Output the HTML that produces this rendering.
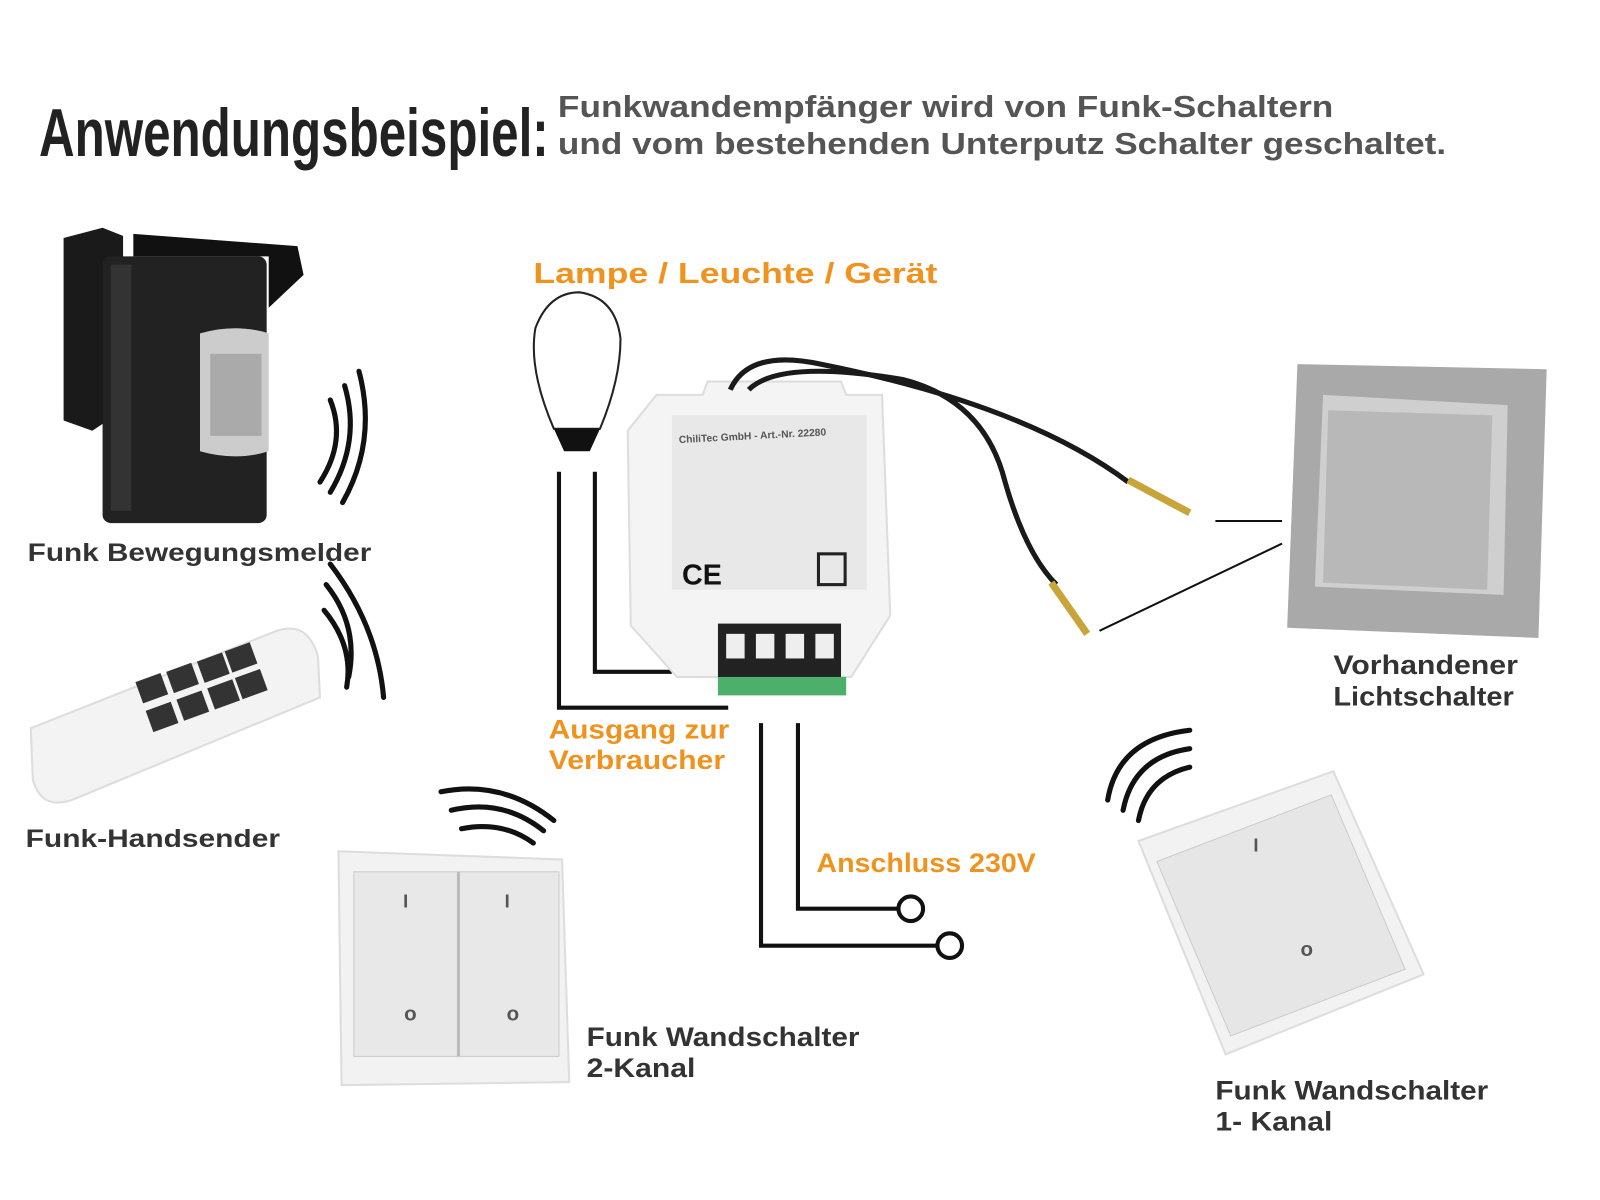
<!DOCTYPE html>
<html><head><meta charset="utf-8"><style>
html,body{margin:0;padding:0;background:#fff;width:1600px;height:1200px;overflow:hidden}
svg{display:block}
text{font-family:"Liberation Sans",sans-serif;font-weight:bold}
</style></head><body>
<svg width="1600" height="1200" viewBox="0 0 1560 1170" preserveAspectRatio="none" xmlns="http://www.w3.org/2000/svg">
<rect width="1560" height="1170" fill="#fff"/>
<!-- Title -->
<text x="38" y="152" font-size="66" fill="#222" textLength="497" lengthAdjust="spacingAndGlyphs" font-family="Liberation Sans Narrow,Liberation Sans,sans-serif">Anwendungsbeispiel:</text>
<text x="544" y="114" font-size="30" fill="#555" textLength="756" lengthAdjust="spacingAndGlyphs">Funkwandempfänger wird von Funk-Schaltern</text>
<text x="544" y="150" font-size="30" fill="#555" textLength="866" lengthAdjust="spacingAndGlyphs">und vom bestehenden Unterputz Schalter geschaltet.</text>

<!-- Motion detector -->
<g>
<path d="M62 232 L100 222 L120 230 L120 400 L90 420 L62 410 Z" fill="#1a1a1a"/>
<rect x="100" y="250" width="160" height="260" rx="8" fill="#222"/>
<path d="M130 228 L290 240 L296 268 L262 300 L262 250 L130 250 Z" fill="#111"/>
<rect x="108" y="258" width="20" height="240" fill="#333"/>
<path d="M195 325 Q230 315 262 325 L262 440 Q230 450 195 440 Z" fill="#ccc"/>
<rect x="205" y="345" width="50" height="80" fill="#aaa"/>
</g>
<text x="27" y="547" font-size="24" fill="#333" textLength="335" lengthAdjust="spacingAndGlyphs">Funk Bewegungsmelder</text>
<!-- waves -->
<g fill="none" stroke="#111" stroke-width="5" stroke-linecap="round">
<path d="M312 470 Q338 430 322 390"/><path d="M322 480 Q352 430 336 376"/><path d="M334 490 Q368 430 350 362"/>
<path d="M318 570 Q350 610 340 660"/><path d="M316 595 Q345 630 338 670"/><path d="M322 550 Q368 610 374 680"/>
<path d="M430 772 Q490 760 540 800"/><path d="M440 790 Q490 778 530 810"/><path d="M450 808 Q490 800 520 822"/>
<path d="M1080 780 Q1090 720 1160 712"/><path d="M1095 790 Q1105 738 1160 730"/><path d="M1110 800 Q1118 758 1160 748"/>
</g>
<!-- remote -->
<path d="M30 710 L270 615 Q300 605 310 640 L312 680 L70 780 Q40 790 32 760 Z" fill="#f3f3f3" stroke="#ddd" stroke-width="2"/>
<g fill="#333">
<rect x="135" y="660" width="26" height="22" transform="rotate(-20 148 671)"/>
<rect x="165" y="650" width="26" height="22" transform="rotate(-20 178 661)"/>
<rect x="195" y="640" width="26" height="22" transform="rotate(-20 208 651)"/>
<rect x="222" y="630" width="26" height="22" transform="rotate(-20 235 641)"/>
<rect x="145" y="688" width="26" height="22" transform="rotate(-20 158 699)"/>
<rect x="175" y="677" width="26" height="22" transform="rotate(-20 188 688)"/>
<rect x="205" y="666" width="26" height="22" transform="rotate(-20 218 677)"/>
<rect x="232" y="656" width="26" height="22" transform="rotate(-20 245 667)"/>
</g>
<text x="25" y="826" font-size="24" fill="#333" textLength="248" lengthAdjust="spacingAndGlyphs">Funk-Handsender</text>

<!-- lamp -->
<text x="520" y="276" font-size="28" fill="#f0921e" textLength="394" lengthAdjust="spacingAndGlyphs">Lampe / Leuchte / Gerät</text>
<path d="M540 418 Q515 360 522 320 Q535 285 565 285 Q600 290 605 330 Q605 370 585 418 Z" fill="none" stroke="#222" stroke-width="2"/>
<path d="M540 418 L585 418 L575 440 L550 440 Z" fill="#111"/>
<g fill="none" stroke="#111" stroke-width="4">
<path d="M545 460 L545 690 L710 690"/>
<path d="M580 460 L580 655 L655 655"/>
<path d="M742 705 L742 922 L918 922"/>
<path d="M778 705 L778 886 L877 886"/>
</g>
<circle cx="888" cy="886" r="12" fill="#fff" stroke="#111" stroke-width="4"/>
<circle cx="926" cy="922" r="12" fill="#fff" stroke="#111" stroke-width="4"/>

<!-- module -->
<path d="M640 385 L685 385 L690 372 L820 372 L825 385 L860 385 L868 600 L830 660 L660 660 L615 610 L612 420 Z" fill="#f4f4f4" stroke="#ddd" stroke-width="2"/>
<rect x="655" y="405" width="190" height="170" fill="#e8e8e8"/>
<text x="662" y="432" font-size="10" fill="#555" font-weight="normal" transform="rotate(-3 662 432)">ChiliTec GmbH - Art.-Nr. 22280</text>
<text x="665" y="570" font-size="28" fill="#111" font-weight="normal">CE</text>
<rect x="798" y="540" width="26" height="30" fill="none" stroke="#222" stroke-width="3"/>
<rect x="700" y="608" width="120" height="55" fill="#222"/>
<g fill="#eee"><rect x="708" y="618" width="18" height="24"/><rect x="737" y="618" width="18" height="24"/><rect x="766" y="618" width="18" height="24"/><rect x="795" y="618" width="18" height="24"/></g>
<rect x="700" y="660" width="125" height="18" fill="#4caf6a"/>
<!-- wires -->
<g fill="none" stroke="#1a1a1a" stroke-width="5">
<path d="M712 380 Q730 340 800 355 Q1000 395 1100 470"/>
<path d="M730 380 Q760 350 880 370 Q960 390 980 470 Q1000 540 1030 570"/>
</g>
<path d="M1100 468 L1160 500" stroke="#c9a43a" stroke-width="7"/>
<path d="M1025 568 L1060 618" stroke="#c9a43a" stroke-width="7"/>
<g stroke="#111" stroke-width="2"><path d="M1185 508 L1250 508"/><path d="M1072 615 L1250 530"/></g>

<!-- light switch -->
<path d="M1265 355 L1508 360 L1500 622 L1255 612 Z" fill="#a9a9a9"/>
<path d="M1290 385 L1470 395 L1466 580 L1282 572 Z" fill="#cfcfcf"/>
<path d="M1295 400 L1455 405 L1450 575 L1290 568 Z" fill="#b8b8b8"/>
<text x="1300" y="657" font-size="26" fill="#333" textLength="180" lengthAdjust="spacingAndGlyphs">Vorhandener</text>
<text x="1300" y="688" font-size="26" fill="#333" textLength="176" lengthAdjust="spacingAndGlyphs">Lichtschalter</text>

<text x="535" y="720" font-size="26" fill="#f0921e" textLength="176" lengthAdjust="spacingAndGlyphs">Ausgang zur</text>
<text x="535" y="750" font-size="26" fill="#f0921e" textLength="172" lengthAdjust="spacingAndGlyphs">Verbraucher</text>
<text x="796" y="850" font-size="26" fill="#f0921e" textLength="214" lengthAdjust="spacingAndGlyphs">Anschluss 230V</text>

<!-- 2-channel switch -->
<path d="M330 830 L548 838 L555 1055 L333 1058 Z" fill="#f2f2f2" stroke="#ddd" stroke-width="2"/>
<rect x="345" y="850" width="200" height="180" fill="#e8e8e8" stroke="#ccc"/>
<line x1="447" y1="850" x2="447" y2="1030" stroke="#bbb" stroke-width="3"/>
<text x="393" y="885" font-size="18" fill="#555" font-weight="normal">I</text>
<text x="492" y="885" font-size="18" fill="#555" font-weight="normal">I</text>
<text x="394" y="995" font-size="20" fill="#555" font-weight="normal">o</text>
<text x="494" y="995" font-size="20" fill="#555" font-weight="normal">o</text>
<text x="572" y="1020" font-size="26" fill="#333" textLength="266" lengthAdjust="spacingAndGlyphs">Funk Wandschalter</text>
<text x="572" y="1050" font-size="26" fill="#333" textLength="106" lengthAdjust="spacingAndGlyphs">2-Kanal</text>

<!-- 1-channel switch -->
<path d="M1110 820 L1300 752 L1388 950 L1195 1028 Z" fill="#f2f2f2" stroke="#ddd" stroke-width="2"/>
<path d="M1128 840 L1298 775 L1370 945 L1200 1010 Z" fill="#e6e6e6" stroke="#ccc"/>
<text x="1222" y="830" font-size="18" fill="#555" font-weight="normal">I</text>
<text x="1268" y="932" font-size="20" fill="#555" font-weight="normal">o</text>
<text x="1185" y="1072" font-size="26" fill="#333" textLength="266" lengthAdjust="spacingAndGlyphs">Funk Wandschalter</text>
<text x="1185" y="1102" font-size="26" fill="#333" textLength="114" lengthAdjust="spacingAndGlyphs">1- Kanal</text>
</svg>
</body></html>
